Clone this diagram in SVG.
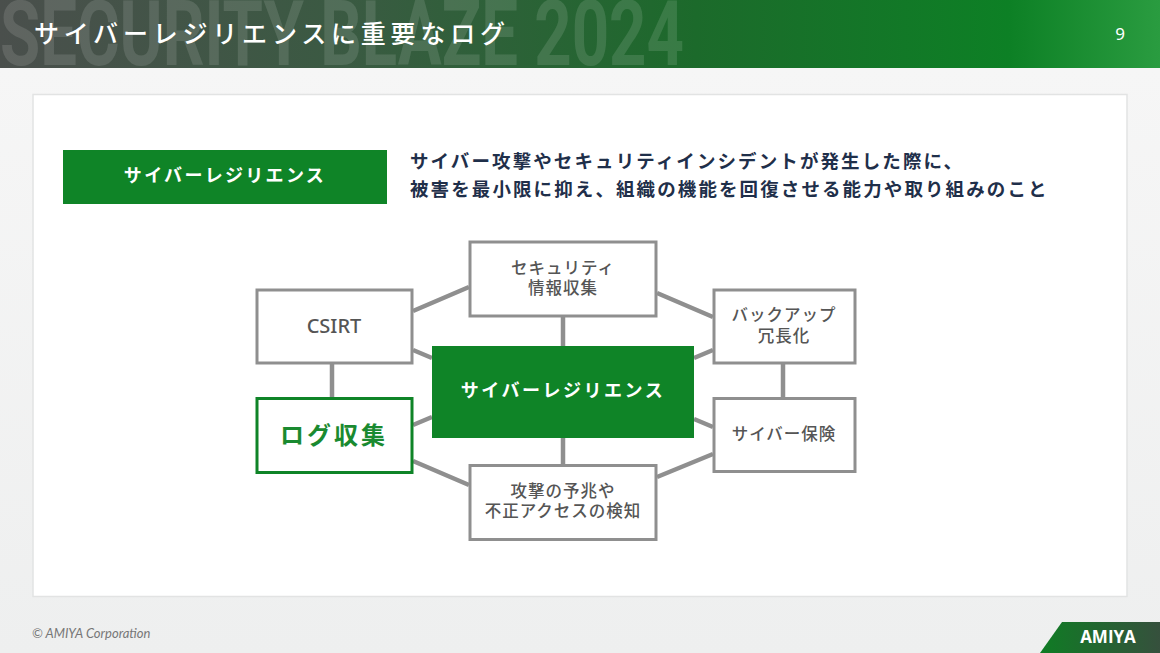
<svg xmlns="http://www.w3.org/2000/svg" width="1160" height="653" viewBox="0 0 1160 653">
<defs>
<linearGradient id="hdr" x1="0" y1="0" x2="1160" y2="0" gradientUnits="userSpaceOnUse">
<stop offset="0" stop-color="#4a4f4c"/><stop offset="0.3" stop-color="#3a5a42"/><stop offset="0.6" stop-color="#1c6a2b"/><stop offset="0.87" stop-color="#0d8025"/><stop offset="1" stop-color="#2a9c40"/>
</linearGradient>
<linearGradient id="ftr" x1="1040" y1="0" x2="1160" y2="0" gradientUnits="userSpaceOnUse">
<stop offset="0" stop-color="#0f7c24"/><stop offset="1" stop-color="#36503d"/>
</linearGradient>
<linearGradient id="bg" x1="0" y1="68" x2="0" y2="653" gradientUnits="userSpaceOnUse">
<stop offset="0" stop-color="#f6f6f6"/><stop offset="1" stop-color="#eeefef"/>
</linearGradient>
<style>
text{font-family:"Noto Sans CJK JP","Noto Sans",sans-serif}
.box{fill:#fff;stroke:#8f8f8f;stroke-width:3}
.lab{fill:#555;font-size:16.5px;font-weight:500;text-anchor:middle;letter-spacing:1px}
.c{stroke:#8f8f8f;stroke-width:4.5;fill:none}
.desc{fill:#1f2f4a;font-size:18.5px;font-weight:700;letter-spacing:2.1px}
</style>
</defs>
<rect width="1160" height="653" fill="url(#bg)"/>
<rect id="header" width="1160" height="68" fill="url(#hdr)"/>
<text transform="translate(0,65) scale(1,1.62)" fill="#fff" fill-opacity="0.12" font-size="56" font-weight="700" textLength="684" lengthAdjust="spacingAndGlyphs" style="font-family:'Roboto','Liberation Sans',sans-serif">SECURITY BLAZE 2024</text>
<text x="34" y="43" fill="#fff" font-size="25" font-weight="500" letter-spacing="4.8">サイバーレジリエンスに重要なログ</text>
<text x="1120" y="40" fill="#fff" font-size="17" text-anchor="middle" style="font-family:'Noto Sans',sans-serif">9</text>
<rect id="panel" x="33" y="94.500" width="1094" height="502" fill="#fff" stroke="#e2e3e3" stroke-width="1.500"/>
<g id="term">
<rect x="63" y="150" width="324" height="54" fill="#0f8427"/>
<text x="225" y="182" fill="#fff" font-size="18" font-weight="700" letter-spacing="2.300" text-anchor="middle">サイバーレジリエンス</text>
</g>
<g id="description">
<text class="desc" x="410" y="168">サイバー攻撃やセキュリティインシデントが発生した際に、</text>
<text class="desc" x="410" y="196">被害を最小限に抑え、組織の機能を回復させる能力や取り組みのこと</text>
</g>
<g id="connectors">
<path class="c" d="M413 311L469 287M657 293L713 317M413 350L432 358M694 358L713 350M413 425L432 417M694 419L713 427M413 461L469 485M657 477L713 454M563 317V346M563 438V465M332 364V398M783 364V398"/>
</g>
<g id="n-security"><rect class="box" x="470" y="242" width="186" height="74"/>
<text class="lab" x="563" y="274">セキュリティ</text><text class="lab" x="563" y="294">情報収集</text></g>
<g id="n-csirt"><rect class="box" x="257" y="290" width="155" height="73"/>
<text x="334" y="333" fill="#555" font-size="20" font-weight="500" text-anchor="middle" style="font-family:'Noto Sans',sans-serif">CSIRT</text></g>
<g id="n-backup"><rect class="box" x="714" y="290" width="141" height="73"/>
<text class="lab" x="784" y="321">バックアップ</text><text class="lab" x="784" y="342">冗長化</text></g>
<g id="n-insurance"><rect class="box" x="714" y="398.500" width="141" height="73"/>
<text class="lab" x="784" y="440">サイバー保険</text></g>
<g id="n-log"><rect x="257" y="398.500" width="155" height="74" fill="#fff" stroke="#0f8427" stroke-width="3"/>
<text x="334" y="444" fill="#1a8a30" font-size="24" font-weight="700" letter-spacing="3" text-anchor="middle">ログ収集</text></g>
<g id="n-attack"><rect class="box" x="470" y="465.500" width="186" height="74"/>
<text class="lab" x="563" y="497">攻撃の予兆や</text><text class="lab" x="563" y="517">不正アクセスの検知</text></g>
<g id="n-center"><rect x="432" y="346" width="262" height="92" fill="#0f8427"/>
<text x="563" y="397" fill="#fff" font-size="18" font-weight="700" letter-spacing="2.500" text-anchor="middle">サイバーレジリエンス</text></g>
<text id="copyright" x="32" y="638" fill="#777" font-size="13" style="font-family:'Lato','Liberation Sans',sans-serif;font-style:italic">© AMIYA Corporation</text>
<g id="logo">
<polygon points="1062,622 1160,622 1160,653 1040,653" fill="url(#ftr)"/>
<text x="1108" y="643" fill="#fff" font-size="17" font-weight="700" text-anchor="middle" style="font-family:'Open Sans','Liberation Sans',sans-serif">AMIYA</text>
</g>
</svg>
